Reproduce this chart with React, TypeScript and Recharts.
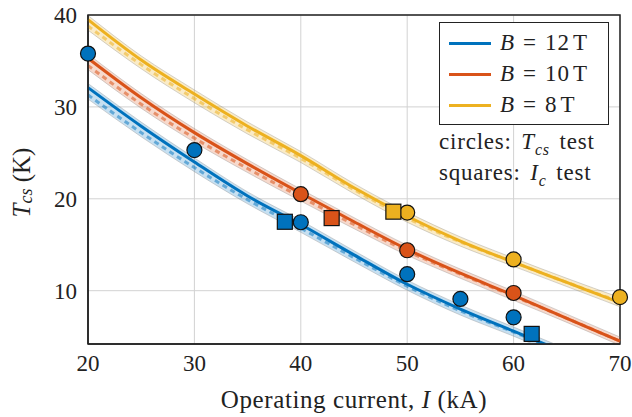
import React from 'react';
import {
  ComposedChart,
  Line,
  Area,
  Scatter,
  XAxis,
  YAxis,
  CartesianGrid,
  ReferenceArea,
} from 'recharts';

// operating current (kA)
const currents = [20, 25, 30, 35, 40, 45, 50, 55, 60, 65, 70];

// model curves, solid
const blueSolid = [32.1, 27.9, 24.0, 20.3, 17.2, 13.9, 10.7, 8.0, 5.6, 3.2, null];
const orangeSolid = [35.3, 31.0, 27.2, 23.8, 20.6, 17.5, 14.5, 11.9, 9.5, 7.0, 4.5];
const yellowSolid = [39.5, 35.1, 31.4, 27.9, 24.7, 21.2, 18.1, 15.4, 13.1, 10.9, 8.7];

// model curves, dashed
const blueDashed = [31.3, 27.2, 23.4, 19.9, 16.8, 13.6, 10.5, 7.8, 5.5, 3.1, null];
const orangeDashed = [34.5, 30.3, 26.6, 23.3, 20.2, 17.2, 14.3, 11.8, 9.4, 7.0, 4.5];
const yellowDashed = [38.8, 34.6, 30.9, 27.5, 24.4, 21.0, 17.9, 15.3, 13.1, 10.9, 8.8];

// Tcs test points (circles)
const blueCircles = [
  { x: 20, y: 35.8 },
  { x: 30, y: 25.3 },
  { x: 40, y: 17.45 },
  { x: 50, y: 11.8 },
  { x: 55, y: 9.1 },
  { x: 60, y: 7.1 },
];
const orangeCircles = [
  { x: 40, y: 20.5 },
  { x: 50, y: 14.4 },
  { x: 60, y: 9.75 },
];
const yellowCircles = [
  { x: 50, y: 18.5 },
  { x: 60, y: 13.4 },
  { x: 70, y: 9.3 },
];

// Ic test points (squares)
const blueSquares = [
  { x: 38.5, y: 17.5 },
  { x: 61.7, y: 5.3 },
];
const orangeSquares = [{ x: 42.9, y: 17.9 }];
const yellowSquares = [{ x: 48.7, y: 18.6 }];

const xTicks = [20, 30, 40, 50, 60, 70];
const yTicks = [10, 20, 30, 40];

const BLUE = '#0072BD';
const ORANGE = '#D95319';
const YELLOW = '#EDB120';
const FONT = '"Liberation Serif", "DejaVu Serif", serif';
const Y_DOMAIN: [number, number] = [4.2, 40];
const PAD = 0.45;

function band(a: (number | null)[], b: (number | null)[], i: number) {
  const s = a[i];
  const d = b[i];
  if (s == null || d == null) return null;
  return [Math.min(s, d) - PAD, Math.max(s, d) + PAD];
}

const table = currents.map((x, i) => ({
  x,
  blue: blueSolid[i],
  orange: orangeSolid[i],
  yellow: yellowSolid[i],
  blueD: blueDashed[i],
  orangeD: orangeDashed[i],
  yellowD: yellowDashed[i],
  blueBand: band(blueSolid, blueDashed, i),
  orangeBand: band(orangeSolid, orangeDashed, i),
  yellowBand: band(yellowSolid, yellowDashed, i),
}));

function circleShape(color: string) {
  return (p: any) => (
    <circle cx={p.cx} cy={p.cy} r={7.5} fill={color} stroke="#111" strokeWidth={1.2} />
  );
}

function squareShape(color: string) {
  return (p: any) => (
    <rect x={p.cx - 7.5} y={p.cy - 7.5} width={15} height={15} fill={color} stroke="#111" strokeWidth={1.2} />
  );
}

function XLabel(props: any) {
  const vb = props.viewBox;
  return (
    <text x={vb.x + vb.width / 2} y={408} textAnchor="middle" fontFamily={FONT} fontSize={25} letterSpacing={0.6} fill="#222">
      <tspan>Operating current, </tspan>
      <tspan fontStyle="italic">I</tspan>
      <tspan> (kA)</tspan>
    </text>
  );
}

function YLabel(props: any) {
  const vb = props.viewBox;
  const cx = 21;
  const cy = vb.y + vb.height / 2 + 3;
  return (
    <text
      x={cx}
      y={cy}
      transform={`rotate(-90, ${cx}, ${cy})`}
      textAnchor="middle"
      dominantBaseline="central"
      fontFamily={FONT}
      fontSize={25}
      fill="#222"
    >
      <tspan fontStyle="italic">T</tspan>
      <tspan fontStyle="italic" fontSize={18} dy={5}>cs</tspan>
      <tspan dy={-5}> (K)</tspan>
    </text>
  );
}

const legendItems = [
  { color: BLUE, value: '12' },
  { color: ORANGE, value: '10' },
  { color: YELLOW, value: '8' },
];

export default function App() {
  const bandStroke = { stroke: '#888', strokeOpacity: 0.45, strokeWidth: 0.8 };
  const noteStyle: React.CSSProperties = {
    position: 'absolute',
    left: 439,
    fontFamily: FONT,
    fontSize: 23,
    letterSpacing: 0.8,
    wordSpacing: 3,
    color: '#222',
    whiteSpace: 'nowrap',
    lineHeight: '28px',
  };
  return (
    <div style={{ position: 'absolute', left: 0, top: 0, width: 632, height: 417, background: '#fff' }}>
      <ComposedChart width={632} height={417} data={table} margin={{ top: 15, right: 12, bottom: 0, left: 0 }}>
        <CartesianGrid stroke="#d2d2d2" strokeWidth={1} />
        <XAxis
          type="number"
          dataKey="x"
          domain={[20, 70]}
          ticks={xTicks}
          height={73}
          tickLine={false}
          tickMargin={5}
          axisLine={{ stroke: '#222', strokeWidth: 1.5 }}
          tick={{ fontSize: 23, fill: '#222', fontFamily: FONT }}
          label={{ content: XLabel }}
        />
        <YAxis
          type="number"
          domain={Y_DOMAIN}
          allowDataOverflow
          ticks={yTicks}
          width={88}
          tickLine={false}
          tickMargin={5}
          axisLine={{ stroke: '#222', strokeWidth: 1.5 }}
          tick={{ fontSize: 23, fill: '#222', fontFamily: FONT }}
          label={{ content: YLabel }}
        />
        <YAxis yAxisId="pts" type="number" domain={Y_DOMAIN} hide />
        <ReferenceArea x1={20} x2={70} y1={Y_DOMAIN[0]} y2={Y_DOMAIN[1]} fill="none" stroke="#222" strokeWidth={1.5} />

        <Area type="monotone" dataKey="blueBand" fill={BLUE} fillOpacity={0.22} {...bandStroke} isAnimationActive={false} />
        <Area type="monotone" dataKey="orangeBand" fill={ORANGE} fillOpacity={0.22} {...bandStroke} isAnimationActive={false} />
        <Area type="monotone" dataKey="yellowBand" fill={YELLOW} fillOpacity={0.25} {...bandStroke} isAnimationActive={false} />

        <Line type="monotone" dataKey="blue" stroke={BLUE} strokeWidth={3} dot={false} isAnimationActive={false} />
        <Line type="monotone" dataKey="orange" stroke={ORANGE} strokeWidth={3} dot={false} isAnimationActive={false} />
        <Line type="monotone" dataKey="yellow" stroke={YELLOW} strokeWidth={3} dot={false} isAnimationActive={false} />

        <Line type="monotone" dataKey="blueD" stroke={BLUE} strokeOpacity={0.5} strokeWidth={3} strokeDasharray="5 4" dot={false} isAnimationActive={false} />
        <Line type="monotone" dataKey="orangeD" stroke={ORANGE} strokeOpacity={0.55} strokeWidth={3} strokeDasharray="5 4" dot={false} isAnimationActive={false} />
        <Line type="monotone" dataKey="yellowD" stroke={YELLOW} strokeOpacity={0.55} strokeWidth={3} strokeDasharray="5 4" dot={false} isAnimationActive={false} />

        <Scatter yAxisId="pts" data={blueCircles} dataKey="y" shape={circleShape(BLUE)} isAnimationActive={false} />
        <Scatter yAxisId="pts" data={orangeCircles} dataKey="y" shape={circleShape(ORANGE)} isAnimationActive={false} />
        <Scatter yAxisId="pts" data={yellowCircles} dataKey="y" shape={circleShape(YELLOW)} isAnimationActive={false} />
        <Scatter yAxisId="pts" data={blueSquares} dataKey="y" shape={squareShape(BLUE)} isAnimationActive={false} />
        <Scatter yAxisId="pts" data={orangeSquares} dataKey="y" shape={squareShape(ORANGE)} isAnimationActive={false} />
        <Scatter yAxisId="pts" data={yellowSquares} dataKey="y" shape={squareShape(YELLOW)} isAnimationActive={false} />
      </ComposedChart>

      {/* legend */}
      <div
        style={{
          position: 'absolute',
          left: 439,
          top: 22,
          width: 168,
          height: 101,
          border: '1.5px solid #222',
          background: '#fff',
          fontFamily: FONT,
          fontSize: 23,
          color: '#222',
        }}
      >
        {legendItems.map((it, i) => (
          <div key={i} style={{ position: 'absolute', left: 9, top: 6 + i * 31, height: 28, display: 'flex', alignItems: 'center' }}>
            <div style={{ width: 42, height: 3, background: it.color, marginRight: 9 }} />
            <span style={{ fontStyle: 'italic' }}>B</span>
            <span style={{ margin: '0 9px' }}>=</span>
            <span style={{ letterSpacing: 1 }}>{it.value}</span>
            <span style={{ marginLeft: 3 }}>T</span>
          </div>
        ))}
      </div>
      <div style={{ ...noteStyle, top: 128 }}>
        circles: <span style={{ fontStyle: 'italic' }}>T</span>
        <sub style={{ fontStyle: 'italic', fontSize: 16, lineHeight: 0 }}>cs</sub> test
      </div>
      <div style={{ ...noteStyle, top: 159 }}>
        squares: <span style={{ fontStyle: 'italic' }}>I</span>
        <sub style={{ fontStyle: 'italic', fontSize: 16, lineHeight: 0 }}>c</sub> test
      </div>
    </div>
  );
}
